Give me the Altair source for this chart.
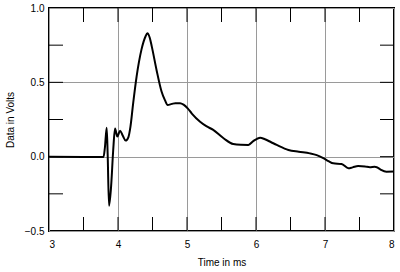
import altair as alt
import pandas as pd

# Impulse response samples
time_ms = [3.0, 3.5, 3.79, 3.81, 3.836, 3.85, 3.87, 3.90, 3.93, 3.957, 3.99, 4.03, 4.07,
           4.11, 4.15, 4.18, 4.22, 4.27, 4.34, 4.40, 4.425, 4.46, 4.49, 4.56, 4.63, 4.68,
           4.72, 4.78, 4.83, 4.90, 4.95, 5.01, 5.07, 5.19, 5.28, 5.38, 5.53, 5.67, 5.78,
           5.89, 5.96, 6.06, 6.13, 6.22, 6.30, 6.47, 6.62, 6.78, 6.88, 6.975, 7.05, 7.12,
           7.24, 7.34, 7.40, 7.48, 7.58, 7.65, 7.72, 7.75, 7.80, 7.89, 8.0]
volts = [0.0, -0.002, -0.002, 0.06, 0.195, 0.02, -0.33, -0.20, 0.04, 0.19, 0.135, 0.175, 0.14,
         0.108, 0.13, 0.20, 0.36, 0.54, 0.72, 0.81, 0.83, 0.80, 0.74, 0.58, 0.44, 0.38,
         0.348, 0.355, 0.36, 0.36, 0.35, 0.325, 0.29, 0.235, 0.205, 0.18, 0.124, 0.085, 0.08,
         0.079, 0.105, 0.128, 0.117, 0.097, 0.079, 0.045, 0.033, 0.022, 0.01, -0.01, -0.03, -0.045,
         -0.049, -0.078, -0.072, -0.063, -0.066, -0.071, -0.068, -0.071, -0.085, -0.101, -0.10]

x_labels = [3, 4, 5, 6, 7, 8]
y_labels = [-0.5, 0.0, 0.5, 1.0]
x_minor = [3.5, 4.0, 4.5, 5.0, 5.5, 6.0, 6.5, 7.0, 7.5]
y_minor = [-0.25, 0.0, 0.25, 0.5, 0.75]

W, H = 345, 223
TICK = 14
FONT = "Liberation Sans"

df = pd.DataFrame({"t": time_ms, "v": volts})
xt = pd.DataFrame({"t": x_minor})
yt = pd.DataFrame({"v": y_minor})

xscale = alt.Scale(domain=[3, 8], nice=False, zero=False)
yscale = alt.Scale(domain=[-0.5, 1.0], nice=False, zero=False)

line = alt.Chart(df).mark_line(color="black", strokeWidth=2, interpolate="monotone").encode(
    x=alt.X("t:Q", scale=xscale, title="Time in ms",
            axis=alt.Axis(values=x_labels, grid=True, gridColor="#9a9a9a", gridWidth=1,
                          ticks=False, domain=False, labelPadding=8, titlePadding=8,
                          format="d")),
    y=alt.Y("v:Q", scale=yscale, title="Data in Volts",
            axis=alt.Axis(values=y_labels, grid=True, gridColor="#9a9a9a", gridWidth=1,
                          ticks=False, domain=False, labelPadding=5, titlePadding=9,
                          format=".1f")),
)

top_ticks = alt.Chart(xt).mark_rule(color="black", strokeWidth=1).encode(
    x=alt.X("t:Q", scale=xscale), y=alt.value(0), y2=alt.value(TICK))
bot_ticks = alt.Chart(xt).mark_rule(color="black", strokeWidth=1).encode(
    x=alt.X("t:Q", scale=xscale), y=alt.value(H - TICK), y2=alt.value(H))
left_ticks = alt.Chart(yt).mark_rule(color="black", strokeWidth=1).encode(
    y=alt.Y("v:Q", scale=yscale), x=alt.value(0), x2=alt.value(TICK))
right_ticks = alt.Chart(yt).mark_rule(color="black", strokeWidth=1).encode(
    y=alt.Y("v:Q", scale=yscale), x=alt.value(W - TICK), x2=alt.value(W))

chart = alt.layer(line, top_ticks, bot_ticks, left_ticks, right_ticks).properties(
    width=W, height=H,
    autosize=alt.AutoSizeParams(type="none"),
    padding={"left": 49, "top": 8, "right": 6, "bottom": 41},
    background="white",
).configure_view(stroke="black", strokeWidth=2).configure_axis(
    labelFont=FONT, titleFont=FONT, labelFontSize=10, titleFontSize=10,
    labelColor="black", titleColor="black", titleFontWeight="normal",
)

chart.save("out.html", embed_options={"renderer": "svg", "actions": False})
